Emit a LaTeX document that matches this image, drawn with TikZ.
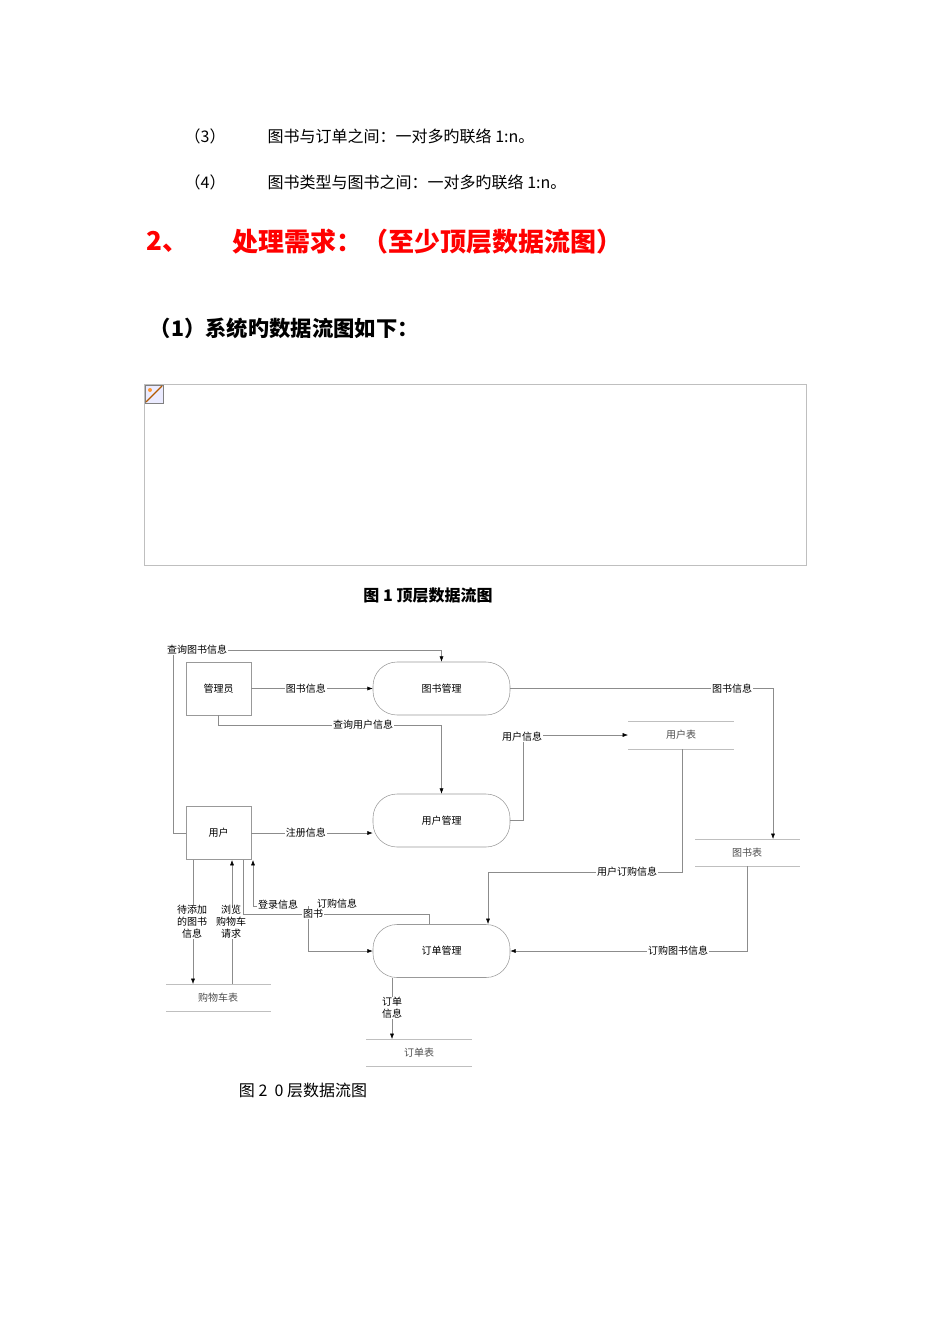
\documentclass[tikz,border=0pt]{standalone}
\usepackage{fontspec}
\newfontfamily\cjk{Noto Sans CJK SC}
\setmainfont{Liberation Serif}
\usetikzlibrary{arrows.meta}
\begin{document}
\begin{tikzpicture}[x=0.75pt,y=-0.75pt,
  ln/.style={draw=black!45,line width=0.4pt},
  arr/.style={ln,-{Latex[length=4pt,width=3pt,black]}},
  ent/.style={draw=black!40,minimum width=48.75pt,minimum height=39.75pt,inner sep=0,font=\cjk\fontsize{7.5}{9}\selectfont},
  proc/.style={draw=black!40,rounded corners=18pt,minimum width=102.75pt,minimum height=39.75pt,inner sep=0,font=\cjk\fontsize{7.5}{9}\selectfont},
  lab/.style={fill=white,inner sep=0.5pt,font=\cjk\fontsize{7.5}{9}\selectfont},
  store/.style={font=\cjk\fontsize{7.5}{9}\selectfont,text=black!70}]
\useasboundingbox (0,0) rectangle (950,1344);
% text
\node[anchor=west,font=\cjk\fontsize{12}{14}\selectfont] (t3a) at (180,136) {（3）};
\node[anchor=west,font=\cjk\fontsize{12}{14}\selectfont] (t3b) at (263,136) {图书与订单之间：一对多旳联络 1:n。};
\node[anchor=west,font=\cjk\fontsize{12}{14}\selectfont] (t4a) at (180,182) {（4）};
\node[anchor=west,font=\cjk\fontsize{12}{14}\selectfont] (t4b) at (263,182) {图书类型与图书之间：一对多旳联络 1:n。};
\node[anchor=west,text=red,font=\cjk\bfseries\fontsize{19.5}{22}\selectfont] (h2a) at (142,242) {2、};
\node[anchor=west,text=red,font=\cjk\bfseries\fontsize{19.5}{22}\selectfont] (h2b) at (228,242) {处理需求：（至少顶层数据流图）};
\node[anchor=west,font=\cjk\bfseries\fontsize{16}{18}\selectfont] (h1) at (145,328) {（1）系统旳数据流图如下：};
\draw[draw=black!25] (144,384) rectangle (806,565);
\draw[draw=black!50,fill=blue!8] (145,385) rectangle (163,403);
\draw[draw=orange!70!black,line width=0.8pt] (146,402) -- (162,386);
\fill[orange!80] (150,390) circle (2);
\node[font=\cjk\bfseries\fontsize{12}{14}\selectfont] (cap1) at (428,595) {图 1 顶层数据流图};
% diagram nodes
\node[ent] (adm) at (218.5,688.5) {管理员};
\node[ent] (usr) at (218.5,833) {用户};
\node[proc] (bm) at (441.5,688.5) {图书管理};
\node[proc] (um) at (441.5,820.5) {用户管理};
\node[proc] (om) at (441.5,951) {订单管理};
\draw[draw=black!25] (628,721) -- (734,721) (628,749) -- (734,749);
\node[store] (ut) at (681,735) {用户表};
\draw[draw=black!25] (695,839) -- (800,839) (695,866) -- (800,866);
\node[store] (bt) at (747,852.5) {图书表};
\draw[draw=black!25] (166,984) -- (271,984) (166,1011) -- (271,1011);
\node[store] (ct) at (218,997.5) {购物车表};
\draw[draw=black!25] (366,1039) -- (472,1039) (366,1066) -- (472,1066);
\node[store] (ot) at (419,1052.5) {订单表};
\coordinate (utT) at (681,721); \coordinate (btT) at (773,839);
\coordinate (ctT) at (193,984); \coordinate (otT) at (392,1039);
% connectors
\draw[arr] (usr.west) -- (173,833) -- (173,650) -- (441.5,650) -- (bm.north);
\node[lab] (l1) at (197,650) {查询图书信息};
\draw[arr] (adm.east) -- (bm.west) node[lab,pos=0.45] {图书信息};
\draw[arr] (bm.east) -- (773,688.5) -- (btT);
\node[lab] (l2) at (732,688.5) {图书信息};
\draw[arr] (adm.south) -- (218.5,725) -- (441.5,725) -- (um.north);
\node[lab] (l3) at (363,725) {查询用户信息};
\draw[arr] (um.east) -- (523,820.5) -- (523,735) -- (628,735);
\node[lab] (l4) at (522,737) {用户信息};
\draw[arr] (usr.east) -- (um.west |- usr.east) node[lab,pos=0.45] {注册信息};
\draw[arr] (682,749) -- (682,872) -- (488,872) -- (488,924);
\node[lab] (l5) at (627,872) {用户订购信息};
\draw[arr] (747,866) -- (747,951) -- (om.east);
\node[lab] (l6) at (678,951) {订购图书信息};
\draw[arr] (392,978) -- (otT);
\node[lab,align=center] (l7) at (392,1008) {订单\\信息};
\draw[arr] (193,860) -- (ctT);
\node[lab,align=center] (l8) at (192,922) {待添加\\的图书\\信息};
\draw[arr] (232,984) -- (232,860);
\node[lab,align=center] (l9) at (231,922) {浏览\\购物车\\请求};
\draw[ln] (243,860) -- (243,914) -- (429,914) -- (429,924);
\draw[arr] (308,906) -- (308,951) -- (om.west);
\draw[arr] (278,906) -- (253,906) -- (253,860);
\node[lab] (l10) at (278,905) {登录信息};
\node[lab] (l11) at (337,904) {订购信息};
\node[lab] (l12) at (313,914) {图书};
\node[font=\cjk\fontsize{12}{14}\selectfont] (cap2) at (303,1090) {图 2 \ 0 层数据流图};
\end{tikzpicture}
\end{document}
